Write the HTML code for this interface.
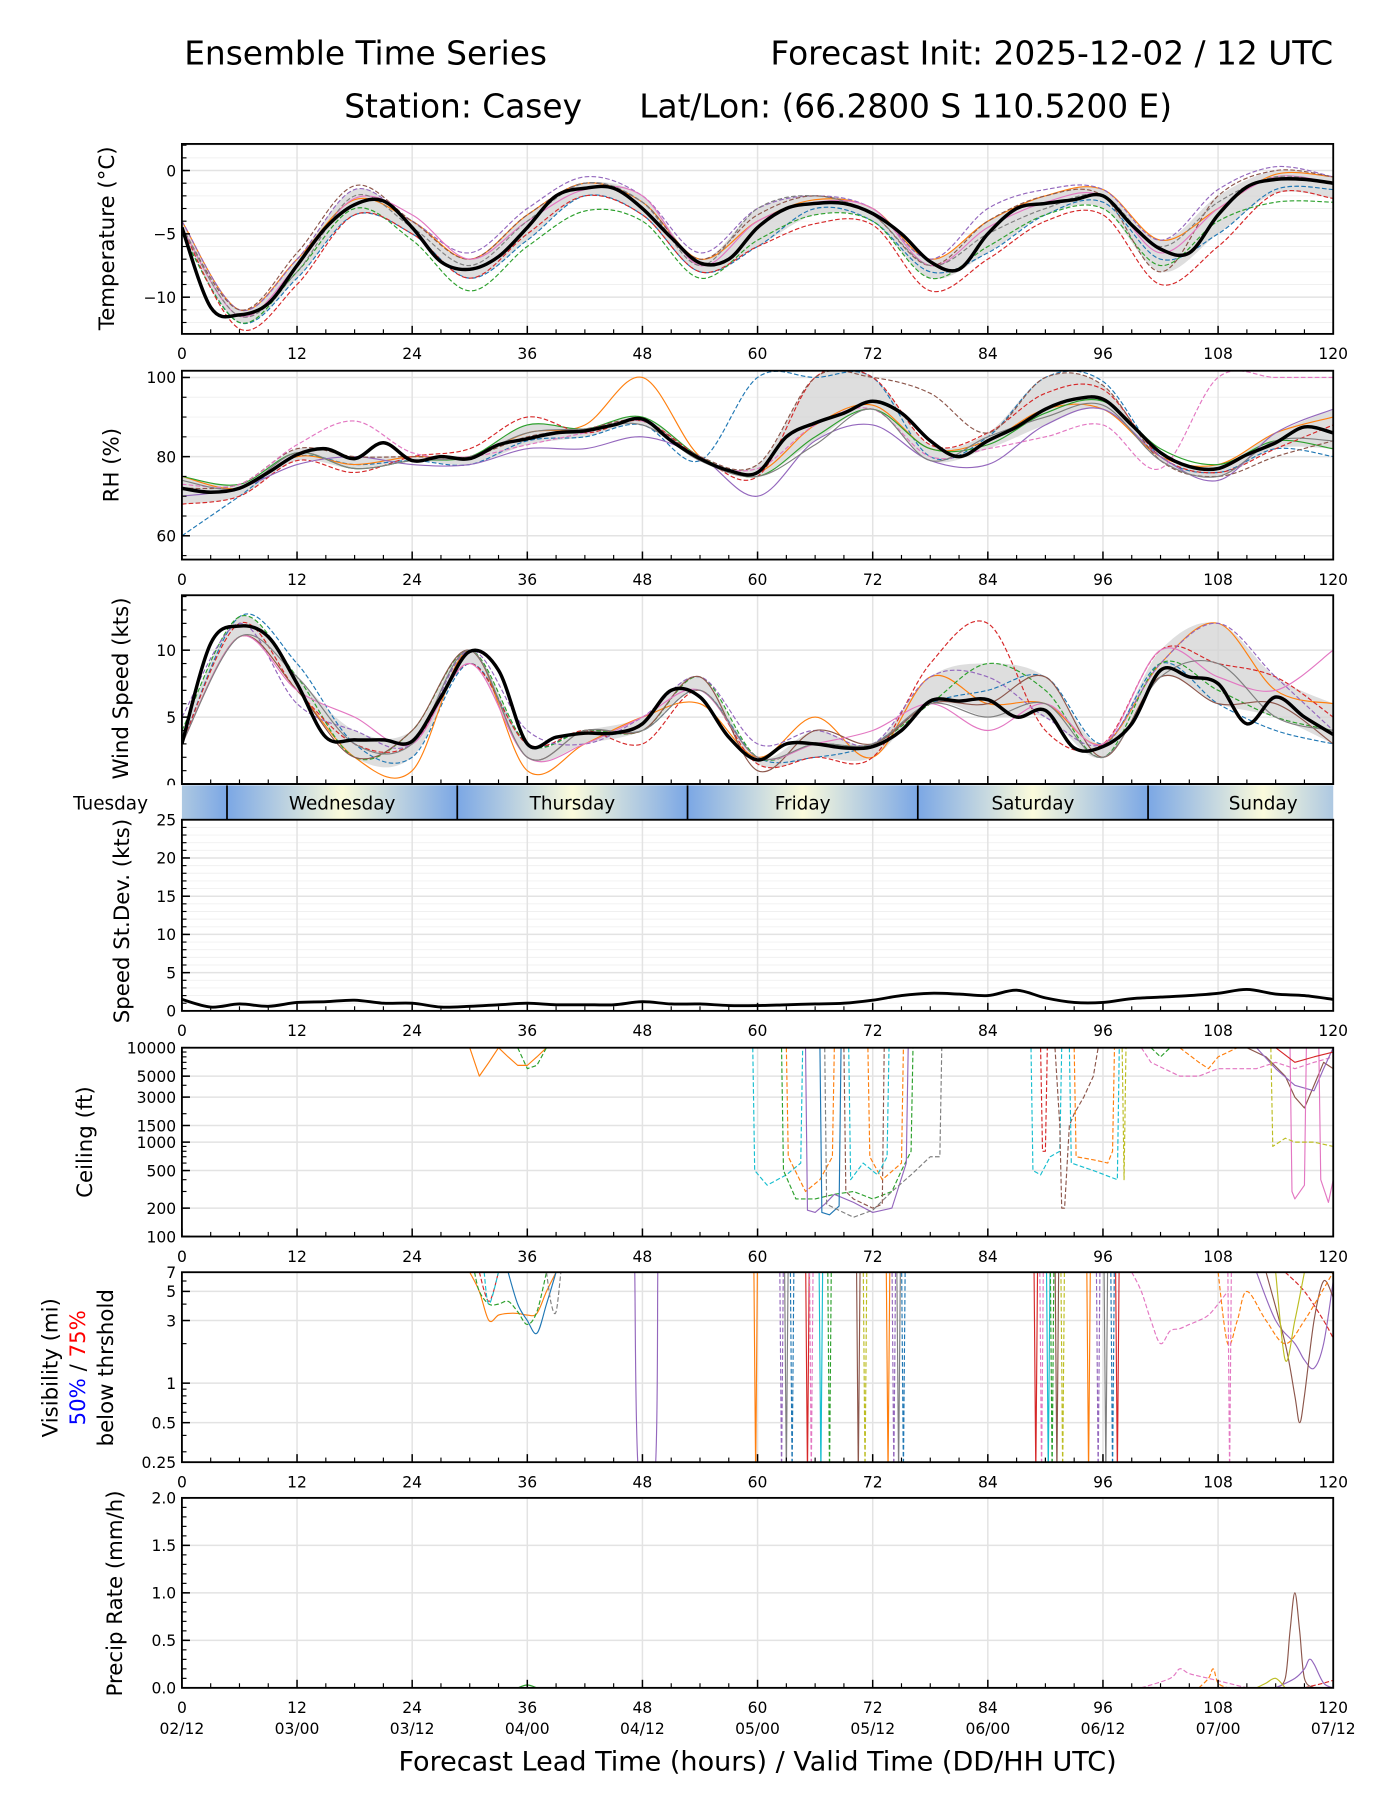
<!DOCTYPE html>
<html><head><meta charset="utf-8"><title>Ensemble Time Series - Casey</title>
<style>html,body{margin:0;padding:0;background:#fff}svg{display:block}text{font-family:"DejaVu Sans","Liberation Sans",sans-serif}</style>
</head><body>
<svg id="chart" xmlns="http://www.w3.org/2000/svg" width="1400" height="1800" viewBox="0 0 1216 1563.4">
<defs>
<linearGradient id="dayGrad" x1="0" x2="1" y1="0" y2="0">
<stop offset="0" stop-color="#7ba7e5"/><stop offset="0.5" stop-color="#fbfbdc"/><stop offset="1" stop-color="#7ba7e5"/>
</linearGradient>
</defs>
<text x="160" y="56" font-size="28.5">Ensemble Time Series</text>
<text x="1158" y="56" font-size="28.5" text-anchor="end">Forecast Init: 2025-12-02 / 12 UTC</text>
<text x="299" y="102" font-size="28.5">Station: Casey</text>
<text x="1018" y="102" font-size="28.5" text-anchor="end">Lat/Lon: (66.2800 S 110.5200 E)</text>
<g id="root"></g>
</svg>
<script>
// ---------- DATA ----------
const hours3 = [0,3,6,9,12,15,18,21,24,27,30,33,36,39,42,45,48,51,54,57,60,63,66,69,72,75,78,81,84,87,90,93,96,99,102,105,108,111,114,117,120];
const hours6 = [0,6,12,18,24,30,36,42,48,54,60,66,72,78,84,90,96,102,108,114,120];
const xTicks = [0,12,24,36,48,60,72,84,96,108,120];
const dateLabels = ["02/12","03/00","03/12","04/00","04/12","05/00","05/12","06/00","06/12","07/00","07/12"];
const dayNames = ["Tuesday","Wednesday","Thursday","Friday","Saturday","Sunday"];
const dayStarts = [-19.3,4.7,28.7,52.7,76.7,100.7];
const colors = ["#1f77b4","#ff7f0e","#2ca02c","#d62728","#9467bd","#8c564b","#e377c2","#7f7f7f","#bcbd22","#17becf"];

const tempMean = [-4.5,-10.8,-11.4,-10.5,-7.5,-4.5,-2.7,-2.4,-4.5,-7.2,-7.8,-6.8,-4.5,-2.0,-1.4,-1.4,-3.0,-5.3,-7.3,-7.0,-4.5,-3.0,-2.6,-2.6,-3.4,-5.0,-7.2,-7.8,-5.0,-3.0,-2.6,-2.3,-2.0,-4.3,-6.2,-6.5,-3.5,-1.3,-0.7,-0.7,-1.0];
const tempM1 = [-5,-12,-8.5,-3.5,-5,-8.5,-5.5,-2,-3.5,-8,-6,-3,-4,-8,-6.5,-3.5,-2.5,-7,-5,-1.5,-1.5];
const tempM2 = [-4,-11,-7,-2.3,-4,-7,-3.5,-1,-2.5,-7,-4,-2.3,-3,-7,-4,-2,-1.5,-5.5,-3,-0.3,-0.5];
const tempM3 = [-5,-12,-8,-3,-5.5,-9.5,-6,-3.2,-4,-8.5,-5.5,-3.5,-4,-8.5,-6,-3.5,-3,-7.5,-4,-2.5,-2.5];
const tempM4 = [-4.5,-12.5,-9,-3.5,-5,-8.5,-5,-2,-3.5,-8,-6,-4.2,-4.3,-9.5,-7,-4,-3.5,-9,-6,-1.8,-2.2];
const tempM5 = [-4,-11,-7,-1.5,-4,-6.5,-3,-0.5,-2,-6.5,-3,-2,-3,-7,-3,-1.5,-1.5,-5.5,-1.5,0.3,-0.5];
const tempM6 = [-4.5,-11,-6.5,-1.2,-4,-7,-3.5,-1,-2.5,-7,-3.5,-2,-3.5,-7.5,-4,-2,-2,-8,-2,0,-0.5];
const tempM7 = [-4.5,-11.5,-7.5,-2.2,-3.5,-7,-4,-1.5,-2,-7.5,-4,-2.5,-3,-7.5,-4.5,-2.5,-2,-6.5,-3,-0.5,-1];
const tempM8 = [-4.5,-11.5,-8,-2,-4.5,-7.5,-4,-1,-2.5,-7.5,-3,-2,-3.5,-7.5,-5,-3,-2,-6,-2.5,-0.5,-1];

const rhMean = [72,71,72,76,80.5,82,79.5,83.5,79,80,79.5,83,84.5,86,86.5,88,89.5,84,79.5,76.5,76,85,88.5,91,94,91,84,80,84,87.5,92,94.5,94.5,88,81,77.5,77,80.5,83.5,87.5,86];
const rhM1 = [60,70,80,78,79,78,84,85,88,79,100,100,100,80,85,100,99,80,76,82,80];
const rhM2 = [75,72,80,78,80,80,86,88,100,80,76,88,93,82,84,92,92,80,78,86,90];
const rhM3 = [75,73,81,77,79,80,88,87,90,80,75,85,92,82,83,91,94,82,78,84,82];
const rhM4 = [68,70,79,76,80,82,90,86,89,80,75,100,100,83,86,96,97,80,76,82,88];
const rhM5 = [70,72,78,80,78,78,82,82,85,80,70,84,88,79,78,88,92,80,74,86,92];
const rhM6 = [72,73,82,80,80,80,85,87,89,80,78,100,100,96,86,100,98,79,75,80,84];
const rhM7 = [73,73,83,89,81,80,83,86,89,79,77,88,92,80,82,85,88,77,100,100,100];
const rhM8 = [74,72,81,77,79,80,86,87,88,79,75,83,92,79,85,90,93,79,75,84,84];

const windMean = [3,10.5,11.8,11,7.5,3.5,3.3,3.3,3.2,6.5,9.9,8.5,3.0,3.5,3.8,3.8,4.5,7,6.5,3.5,1.8,3,3,2.7,2.8,4,6.2,6.2,6.3,5,5.5,2.7,2.8,4.5,8.5,8,7.5,4.5,6.5,5,3.7];
const windM1 = [3,12.5,9,3,2,9,3,4,4,7,2,2,3,6,7,8,3,9,6,4,3];
const windM2 = [3,11,7,2,1,10,1,3,5,6,2,5,2,8,6,6,3,9,12,7,6];
const windM3 = [4,12.5,8,2,4,10,3,4,4,8,2,3,3,6,9,7,2,9,7,5,4];
const windM4 = [3,12,7,3,3,9,3,4,3,7,1.5,2,2,9,12,4,3,10,9,8,5];
const windM5 = [5,12,6,4,3,10,4,3,5,8,3,4,3,8,8,5,3,9,12,8,4];
const windM6 = [3,11,7,2,4,10,2,4,4,8,1,4,3,6,6,8,2,8,6,6,3];
const windM7 = [3,11,7,5,3,9,2,3,5,7,2,3,4,6,4,6,3,10,8,7,10];
const windM8 = [3,11,8,3,3,10,2,4,4,7,2,3,3,6,5,6,2,8,9,5,4];

const stdValues = [1.5,0.5,0.9,0.6,1.1,1.2,1.4,1.0,1.0,0.5,0.6,0.8,1.0,0.8,0.8,0.8,1.2,0.9,0.9,0.7,0.7,0.8,0.9,1.0,1.4,2.0,2.3,2.2,2.0,2.7,1.7,1.1,1.1,1.6,1.8,2.0,2.3,2.8,2.2,2.0,1.5];

// ceiling members: hours / values (ft)
const ceilH1=[30,31,32,33,34,35,36,37,38], ceilV1=[10000,5000,7000,10000,8000,6500,6500,8000,10000];
const ceilH2=[35,36,37,38], ceilV2=[10000,6000,6500,10000];
const ceilH3=[59.5,59.7,61,63,64.5,64.7], ceilV3=[10000,500,350,450,600,10000];
const ceilH4=[62.5,62.7,64,66,68,70,72,74,75,76,76.2], ceilV4=[10000,500,250,250,280,300,250,300,500,800,10000];
const ceilH5=[63,63.2,65,66.5,67.8,68], ceilV5=[10000,700,300,400,700,10000];
const ceilH6=[65,65.2,66,67,68,70,72,74,75.5,75.7], ceilV6=[10000,190,180,220,280,230,180,200,600,10000];
const ceilH7=[66.5,66.7,67.5,68.5,68.7], ceilV7=[10000,180,170,210,10000];
const ceilH8=[67,67.2,68,70,72,74,76,78,79,79.2], ceilV8=[10000,220,200,160,190,300,450,700,700,10000];
const ceilH9=[69,69.2,70,72,73,73.2], ceilV9=[10000,300,250,200,220,10000];
const ceilH10=[71.5,71.7,73,75,75.2], ceilV10=[10000,700,400,600,10000];
const ceilH11=[69.5,69.7,71,72.5,73.5,73.7], ceilV11=[10000,400,600,450,700,10000];
const ceilH12=[88.5,88.7,89.5,90.5,91.5,91.7], ceilV12=[10000,500,450,700,800,10000];
const ceilH13=[89.5,89.7,90,90.2], ceilV13=[10000,800,800,10000];
const ceilH14=[91,91.5,91.7,92,92.5,93,94,95,95.5], ceilV14=[10000,1500,200,200,1500,2000,3000,5000,10000];
const ceilH15=[93,93.2,95,96.5,97,97.2], ceilV15=[10000,700,650,600,800,10000];
const ceilH16=[92.5,92.7,95,97.5,97.7], ceilV16=[10000,600,500,400,10000];
const ceilH17=[98,98.2,98.4], ceilV17=[10000,400,10000];
const ceilH18=[100,101,104,106,108,110,112,114,116,118,120], ceilV18=[10000,7000,5000,5000,6000,6000,6000,7000,6000,7000,8000];
const ceilH19=[111,113,115,116,117,118,119,120], ceilV19=[10000,8000,5000,3000,2300,4000,7000,6000];
const ceilH20=[112,114,116,118,119,120], ceilV20=[10000,6000,4000,3500,6000,10000];
const ceilH21=[115.5,115.7,116,117,117.2,118.5,118.7,119.5,120], ceilV21=[10000,300,250,350,10000,10000,400,230,400];
const ceilH22=[113.5,113.7,115,116,118,120], ceilV22=[10000,900,1100,1000,1000,900];
const ceilH23=[104,106,107,108,110], ceilV23=[10000,7000,6000,8000,10000];
const ceilH24=[101,102,103], ceilV24=[10000,8000,10000];
const ceilH25=[114,116,118,120], ceilV25=[10000,7000,8000,9000];

// visibility members: hours / values (mi)
const visH1=[30,31,32,33,34,35,36,37,38,39], visV1=[7,5,3,3.3,3.4,3.4,3.3,3.4,5,7];
const visH2=[34,35,36,37,38,39], visV2=[7,4,3,2.4,4,7];
const visH3=[30.5,31,32,33,34,35,36,37,38], visV3=[7,5,4,4,4.2,3.5,2.8,3.5,7];
const visH4=[31,32,33], visV4=[7,4.2,7];
const visH5=[31.5,32,33], visV5=[7,4,7];
const visH6=[38,38.5,39,39.5], visV6=[7,4,3.5,7];
const visH7=[47.2,47.6,49.3,49.6], visV7=[7,0.2,0.2,7];
const visH8=[99,100,101,102,103,104,105,106,107,108,109], visV8=[7,5,3,2,2.5,2.6,2.8,3,3.3,4,5];
const visH9=[112,114,116,117,118,119,120], visV9=[7,3,2,1.5,1.3,2,6];
const visH10=[113,115,116,116.5,117,118,119,120], visV10=[7,2,0.8,0.5,0.8,3,6,4.5];
const visH11=[115,117,119,120], visV11=[7,5,3,2.2];
const visH12=[108,109,110,111,113,115,117,120], visV12=[7,2,3,5,3,2,3,7];
const visH13=[114,115,116,117], visV13=[7,1.5,3,7];
const visSpikeH = [59.8,62.5,63,63.6,65.2,65.6,66.6,67.5,70.5,71.2,73.6,74.2,74.7,75.2,89,89.6,90.3,90.7,91.2,91.8,94.5,95.5,96.3,97.0,97.5,109.2];

// precip members: hours / values (mm/h)
const prH1=[114,115,115.5,116,116.5,117,118], prV1=[0,0.1,0.6,1.0,0.6,0.1,0];
const prH2=[114,116,117,117.5,118,119,120], prV2=[0,0.1,0.2,0.3,0.25,0.05,0];
const prH3=[100,103,104,105,107,109,111], prV3=[0,0.1,0.2,0.15,0.1,0.05,0];
const prH4=[106,107,107.5,108,109], prV4=[0,0.1,0.2,0.05,0];
const prH5=[35,36,37], prV5=[0,0.03,0];
const prH6=[117,119,120], prV6=[0,0.05,0.08];
const prH7=[112,113,114,115], prV7=[0,0.05,0.1,0];

// ---------- DRAWING ----------
const NS="http://www.w3.org/2000/svg";
const root=document.getElementById('root');
const X0=158, X1=1158;
const xScale=h=>X0+h/120*(X1-X0);
function el(tag,attrs,parent){const e=document.createElementNS(NS,tag);for(const k in attrs)e.setAttribute(k,attrs[k]);(parent||root).appendChild(e);return e;}
function smoothPath(pts){
  if(pts.length<2)return"";
  let d=`M${pts[0][0].toFixed(2)},${pts[0][1].toFixed(2)}`;
  for(let i=0;i<pts.length-1;i++){
    const p0=pts[i-1]||pts[i],p1=pts[i],p2=pts[i+1],p3=pts[i+2]||p2;
    const c1=[p1[0]+(p2[0]-p0[0])/6,p1[1]+(p2[1]-p0[1])/6];
    const c2=[p2[0]-(p3[0]-p1[0])/6,p2[1]-(p3[1]-p1[1])/6];
    d+=`C${c1[0].toFixed(2)},${c1[1].toFixed(2)} ${c2[0].toFixed(2)},${c2[1].toFixed(2)} ${p2[0].toFixed(2)},${p2[1].toFixed(2)}`;
  }
  return d;
}
function linePath(pts){return pts.map((p,i)=>(i?'L':'M')+p[0].toFixed(2)+','+p[1].toFixed(2)).join('');}

let clipId=0;
function makePanel(name,top,bot,yFn,majors,majorLabels,minors,minorGrid,ylabel){
  const g=el('g',{});
  
  
  const cid='clip'+(clipId++);
  const cp=el('clipPath',{id:cid},g);el('rect',{x:X0,y:top,width:X1-X0,height:bot-top},cp);
  const grid=el('g',{},g);
  
  
  if(minorGrid)minors.forEach(v=>{const y=yFn(v);if(y>top&&y<bot)el('line',{x1:X0,x2:X1,y1:y,y2:y,stroke:'#f0f0f0','stroke-width':0.8},grid);});
  majors.forEach(v=>{const y=yFn(v);el('line',{x1:X0,x2:X1,y1:y,y2:y,stroke:'#e3e3e3','stroke-width':1.3},grid);});
  xTicks.forEach(h=>{const x=xScale(h);el('line',{x1:x,x2:x,y1:top,y2:bot,stroke:'#e3e3e3','stroke-width':1.3},grid);});
  const data=el('g',{'clip-path':`url(#${cid})`},g);
  
  
  const frame=el('rect',{x:X0,y:top,width:X1-X0,height:bot-top,fill:'none',stroke:'#000','stroke-width':1.6},g);
  
  
  const ax=el('g',{},g);
  
  
  for(let h=0;h<=120;h+=3){const x=xScale(h);const big=h%12===0;el('line',{x1:x,x2:x,y1:bot,y2:bot-(big?7:4),stroke:'#000','stroke-width':big?1.3:1},ax);}
  xTicks.forEach(h=>{const t=el('text',{x:xScale(h),y:bot+22,'font-size':13.5,'text-anchor':'middle'},ax);t.textContent=String(h);});
  const ay=el('g',{},g);
  
  
  minors.forEach(v=>{const y=yFn(v);if(y>=top&&y<=bot)el('line',{x1:X0,x2:X0+4,y1:y,y2:y,stroke:'#000','stroke-width':1},ay);});
  majors.forEach((v,i)=>{const y=yFn(v);el('line',{x1:X0,x2:X0+7,y1:y,y2:y,stroke:'#000','stroke-width':1.3},ay);
    const t=el('text',{x:X0-5,y:y+5,'font-size':13.5,'text-anchor':'end'},ay);t.textContent=majorLabels[i];});
  if(ylabel){
    const t=el('text',{x:0,y:0,'font-size':18.5,'text-anchor':'middle',transform:`translate(${ylabel.x},${ylabel.y}) rotate(-90)`},g);
    t.textContent=ylabel.text;
    
    
  }
  return data;
}
function lin(d0,d1,top,bot){return v=>bot-(v-d0)/(d1-d0)*(bot-top);}
function logS(d0,d1,top,bot){return v=>bot-(Math.log10(v)-Math.log10(d0))/(Math.log10(d1)-Math.log10(d0))*(bot-top);}
function range(a,b,s){const r=[];for(let v=a;v<=b+1e-9;v+=s)r.push(+v.toFixed(4));return r;}

function ensemble(g,yFn,members,mean,dashed,name){
  const lo=[],hi=[];
  hours6.forEach((h,i)=>{const vals=members.map(m=>m[i]).sort((a,b)=>a-b);lo.push([xScale(h),yFn(vals[1])]);hi.push([xScale(h),yFn(vals[vals.length-2])]);});
  const band=el('path',{d:smoothPath(hi)+'L'+smoothPath(lo.slice().reverse()).slice(1)+'Z',fill:'#d3d3d3','fill-opacity':0.75,stroke:'none'},g);
  
  
  members.forEach((m,k)=>{
    const p=el('path',{d:smoothPath(hours6.map((h,i)=>[xScale(h),yFn(m[i])])),fill:'none',stroke:colors[k%10],'stroke-width':1,'stroke-dasharray':dashed[k]?'4,2':'none'},g);
    
    
  });
  const mp=el('path',{d:smoothPath(hours3.map((h,i)=>[xScale(h),yFn(mean[i])])),fill:'none',stroke:'#000','stroke-width':3},g);
  
  
}

// Temperature
let yT=lin(-12.9,2.1,125,290);
let gT=makePanel('temperature',125,290,yT,[0,-5,-10],['0','\u22125','\u221210'],range(-12,2,1),true,{x:99,y:207,text:'Temperature (\u00b0C)'});
ensemble(gT,yT,[tempM1,tempM2,tempM3,tempM4,tempM5,tempM6,tempM7,tempM8],tempMean,[1,0,1,1,1,1,0,1],'temperature');

// RH
let yR=lin(54,101.7,322,486);
let gR=makePanel('rh',322,486,yR,[60,80,100],['60','80','100'],range(55,100,5),true,{x:103,y:404,text:'RH (%)'});
ensemble(gR,yR,[rhM1,rhM2,rhM3,rhM4,rhM5,rhM6,rhM7,rhM8],rhMean,[1,0,0,1,0,1,1,0],'rh');

// Wind
let yW=lin(0,14.1,517,681);
let gW=makePanel('wind-speed',517,681,yW,[0,5,10],['0','5','10'],range(0,14,1),false,{x:111,y:598,text:'Wind Speed (kts)'});
ensemble(gW,yW,[windM1,windM2,windM3,windM4,windM5,windM6,windM7,windM8],windMean,[1,0,1,1,1,0,0,0],'wind');

// Day band (drawn after wind panel so it covers its tick labels)
const dayBand=el('g',{});


el('rect',{x:40,y:682,width:1200-40,height:30,fill:'#fff'},dayBand);
const dcp=el('clipPath',{id:'dayclip'},dayBand);el('rect',{x:X0,y:682,width:X1-X0,height:30},dcp);
const dayInner=el('g',{'clip-path':'url(#dayclip)'},dayBand);
dayStarts.forEach((h,i)=>{
  const x=xScale(h);
  el('rect',{x:x,y:682,width:200,height:30,fill:'url(#dayGrad)'},dayInner);
  if(i>0)el('line',{x1:x,x2:x,y1:682,y2:712,stroke:'#000','stroke-width':1.5},dayInner);
  const lx=i===0?96:x+100;
  const t=el('text',{x:lx,y:703,'font-size':16,'text-anchor':'middle'},dayBand);
  t.textContent=dayNames[i];
  
  
});
el('line',{x1:X0,x2:X1,y1:681,y2:681,stroke:'#000','stroke-width':1.6},dayBand);

// Std dev (after band so its top label stays visible)
let yS=lin(0,25,712,878);
let gS=makePanel('speed-stdev',712,878,yS,[0,5,10,15,20,25],['0','5','10','15','20','25'],range(0,25,1),true,{x:112,y:800,text:'Speed St.Dev. (kts)'});
const sp=el('path',{d:smoothPath(hours3.map((h,i)=>[xScale(h),yS(stdValues[i])])),fill:'none',stroke:'#000','stroke-width':2.5},gS);



// Ceiling
let yC=logS(100,10000,910,1074);
const ceilMinor=[];[100,1000].forEach(b=>{for(let k=2;k<=9;k++)ceilMinor.push(b*k);});
let gC=makePanel('ceiling',910,1074,yC,[100,200,500,1000,1500,3000,5000,10000],['100','200','500','1000','1500','3000','5000','10000'],ceilMinor,false,{x:80,y:992,text:'Ceiling (ft)'});
const ceilH=[ceilH1,ceilH2,ceilH3,ceilH4,ceilH5,ceilH6,ceilH7,ceilH8,ceilH9,ceilH10,ceilH11,ceilH12,ceilH13,ceilH14,ceilH15,ceilH16,ceilH17,ceilH18,ceilH19,ceilH20,ceilH21,ceilH22,ceilH23,ceilH24,ceilH25];
const ceilV=[ceilV1,ceilV2,ceilV3,ceilV4,ceilV5,ceilV6,ceilV7,ceilV8,ceilV9,ceilV10,ceilV11,ceilV12,ceilV13,ceilV14,ceilV15,ceilV16,ceilV17,ceilV18,ceilV19,ceilV20,ceilV21,ceilV22,ceilV23,ceilV24,ceilV25];
const ceilCol=[1,2,9,2,1,4,0,7,5,1,9,9,3,5,1,9,8,6,5,4,6,8,1,2,3];
const ceilDash=[0,1,1,1,1,0,0,1,1,1,1,1,1,1,1,1,1,1,0,0,0,1,1,1,0];
ceilH.forEach((hs,k)=>{
  const pts=hs.map((h,i)=>[xScale(h),yC(ceilV[k][i])]);
  const p=el('path',{d:linePath(pts),fill:'none',stroke:colors[ceilCol[k]],'stroke-width':1,'stroke-dasharray':ceilDash[k]?'4,2':'none','stroke-linejoin':'round'},gC);
  
  
});

// Visibility
let yV=logS(0.25,7,1105,1270);
let gV=makePanel('visibility',1105,1270,yV,[0.25,0.5,1,3,5,7],['0.25','0.5','1','3','5','7'],[0.3,0.4,0.6,0.7,0.8,0.9,2,4,6],false,null);
const vl=el('text',{x:0,y:0,'font-size':18.5,'text-anchor':'middle',transform:'translate(50,1188) rotate(-90)'});
vl.textContent='Visibility (mi)';


const vl2=el('text',{x:0,y:0,'font-size':18.5,'text-anchor':'middle',transform:'translate(74,1188) rotate(-90)'});


const ts1=el('tspan',{fill:'#0000ff'},vl2);ts1.textContent='50%';
const ts2=el('tspan',{fill:'#000'},vl2);ts2.textContent=' / ';
const ts3=el('tspan',{fill:'#ff0000'},vl2);ts3.textContent='75%';
const vl3=el('text',{x:0,y:0,'font-size':18.5,'text-anchor':'middle',transform:'translate(98,1188) rotate(-90)'});
vl3.textContent='below thrshold';


const visH=[visH1,visH2,visH3,visH4,visH5,visH6,visH7,visH8,visH9,visH10,visH11,visH12,visH13];
const visV=[visV1,visV2,visV3,visV4,visV5,visV6,visV7,visV8,visV9,visV10,visV11,visV12,visV13];
const visCol=[1,0,2,3,9,7,4,6,4,5,3,1,8];
const visDash=[0,0,1,1,1,1,0,1,0,0,1,1,0];
visH.forEach((hs,k)=>{
  const pts=hs.map((h,i)=>[xScale(h),yV(visV[k][i])]);
  const p=el('path',{d:smoothPath(pts),fill:'none',stroke:colors[visCol[k]],'stroke-width':1,'stroke-dasharray':visDash[k]?'4,2':'none'},gV);
  
  
});
visSpikeH.forEach((h,k)=>{
  const x=xScale(h);
  const p=el('path',{d:`M${x-1.5},${yV(7)}L${x},${yV(0.2)}L${x+1.5},${yV(7)}`,fill:'none',stroke:colors[(k*3+1)%10],'stroke-width':1,'stroke-dasharray':k%2?'4,2':'none'},gV);
  
  
});

// Precip
let yP=lin(0,2,1301,1466);
let gP=makePanel('precip-rate',1301,1466,yP,[0,0.5,1,1.5,2],['0.0','0.5','1.0','1.5','2.0'],range(0,2,0.1),false,{x:106,y:1384,text:'Precip Rate (mm/h)'});
const prH=[prH1,prH2,prH3,prH4,prH5,prH6,prH7];
const prV=[prV1,prV2,prV3,prV4,prV5,prV6,prV7];
const prCol=[5,4,6,1,2,3,8];
const prDash=[0,0,1,1,0,1,0];
prH.forEach((hs,k)=>{
  const pts=hs.map((h,i)=>[xScale(h),yP(prV[k][i])]);
  const p=el('path',{d:smoothPath(pts),fill:'none',stroke:colors[prCol[k]],'stroke-width':1,'stroke-dasharray':prDash[k]?'4,2':'none'},gP);
  
  
});
xTicks.forEach((h,i)=>{
  const t=el('text',{x:xScale(h),y:1506,'font-size':13.5,'text-anchor':'middle'});
  t.textContent=dateLabels[i];
  
  
});
const xl=el('text',{x:658,y:1538,'font-size':23.5,'text-anchor':'middle'});
xl.textContent='Forecast Lead Time (hours) / Valid Time (DD/HH UTC)';


</script>
</body></html>
